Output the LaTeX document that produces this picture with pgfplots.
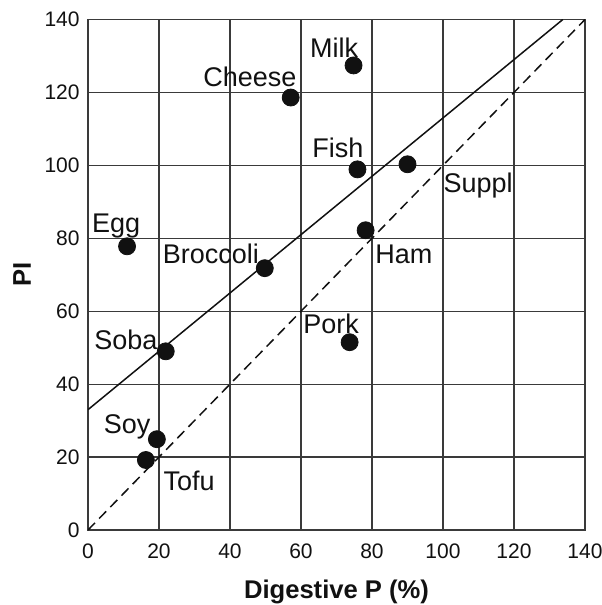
\documentclass[border=0pt]{standalone}
\usepackage{fontspec}
\setmainfont{Liberation Sans}
\usepackage{pgfplots}
\pgfplotsset{compat=1.18}
\definecolor{gridc}{HTML}{3A3A3A}
\definecolor{inkc}{HTML}{111111}
\pgfplotstableread{
x y
74.8 127.4
57.1 118.6
75.9 98.9
90.0 100.3
11.0 77.8
49.8 71.8
78.2 82.2
73.7 51.5
21.9 49.0
19.4 24.9
16.3 19.2
}\pts
\begin{document}
\begin{tikzpicture}
\begin{axis}[
  name=ax,
  scale only axis,
  width=248.5pt, height=255.25pt,
  xmin=0, xmax=140, ymin=0, ymax=140,
  xtick={0,20,...,140}, ytick={0,20,...,140},
  grid=major,
  major grid style={draw=gridc, line width=0.6pt},
  axis line style={draw=gridc, line width=0.7pt},
  major tick length=0pt,
  /pgf/number format/assume math mode=true,
  tick label style={font=\fontsize{10.5}{12}\selectfont, text=inkc},
  xticklabel style={anchor=north, inner sep=0pt, yshift=-6.5pt},
  yticklabel style={anchor=east, inner sep=0pt, xshift=-4pt},
  xlabel={\textbf{Digestive P (\%)}},
  ylabel={\textbf{PI}},
  label style={font=\fontsize{12.8}{15}\selectfont, text=inkc},
  xlabel style={at={(axis description cs:0.5,-0.135)}, anchor=base, inner sep=0pt},
  ylabel style={at={(axis description cs:-0.1328,0.5)}, anchor=center, inner sep=0pt},
  clip=true,
]
\addplot[draw=inkc, line width=0.75pt, dashed, dash pattern=on 5pt off 3pt] coordinates {(0,0) (140,140)};
\addplot[draw=inkc, line width=0.75pt] coordinates {(0,33) (133.75,140)};
\addplot[only marks, mark=*, mark size=4.25pt, mark options={fill=inkc, draw=inkc}] table[x=x,y=y] {\pts};
\begin{scope}[every node/.style={font=\fontsize{13.5}{16}\selectfont, text=inkc, anchor=base, inner sep=0pt}]
\node at (axis cs:69.3,129.6) {Milk};
\node at (axis cs:45.6,121.6) {Cheese};
\node at (axis cs:70.4,102.2) {Fish};
\node at (axis cs:109.9,92.5) {Suppl};
\node at (axis cs:7.9,81.6) {Egg};
\node at (axis cs:34.6,73.2) {Broccoli};
\node at (axis cs:89.0,73.2) {Ham};
\node at (axis cs:68.5,54.0) {Pork};
\node at (axis cs:10.7,49.6) {Soba};
\node at (axis cs:11.0,26.6) {Soy};
\node at (axis cs:28.5,10.7) {Tofu};
\end{scope}
\end{axis}
\pgfresetboundingbox
\useasboundingbox ([xshift=-44pt,yshift=-37.5pt]ax.south west) rectangle ([xshift=8.5pt,yshift=9.75pt]ax.north east);
\end{tikzpicture}
\end{document}
